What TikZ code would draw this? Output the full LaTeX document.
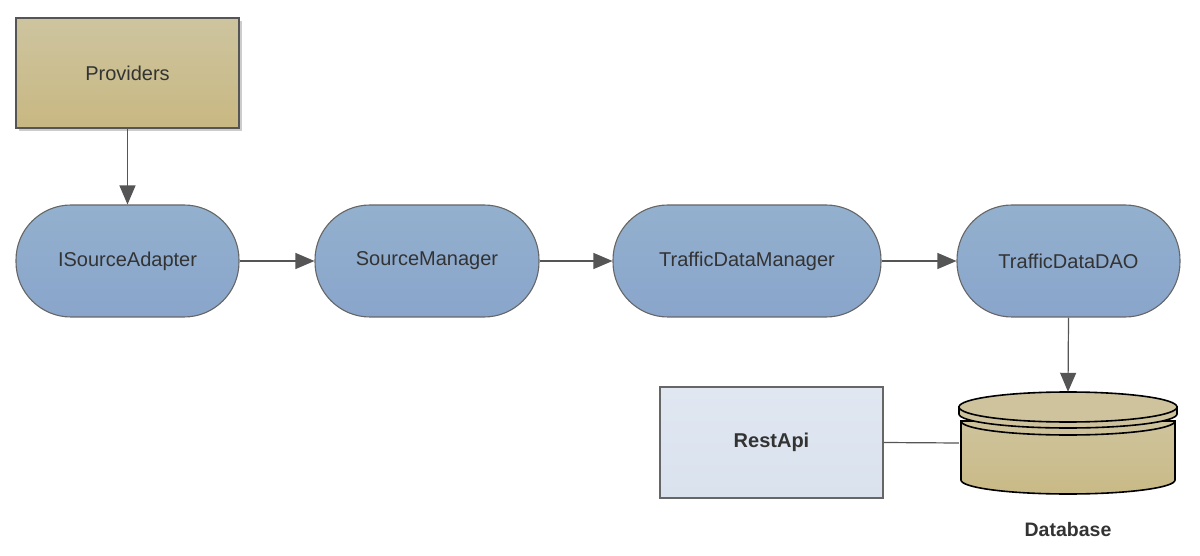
\documentclass[tikz,border=0pt]{standalone}
\usepackage{fontspec}
\setmainfont{Liberation Sans}
\usetikzlibrary{arrows.meta,shadows}
\definecolor{txt}{HTML}{333333}
\definecolor{edge}{HTML}{555555}
\definecolor{bord}{HTML}{666666}
\definecolor{blueT}{HTML}{93B0CE}
\definecolor{blueB}{HTML}{89A5CB}
\definecolor{tanT}{HTML}{CDC49F}
\definecolor{tanB}{HTML}{C8B882}
\definecolor{restT}{HTML}{E0E7F1}
\definecolor{restB}{HTML}{DAE2EE}
\definecolor{dbT}{HTML}{CEC39C}
\definecolor{dbB}{HTML}{C9BA86}
\begin{document}
\begin{tikzpicture}[x=1pt,y=1pt,
  every node/.style={font=\fontsize{20}{24}\selectfont, text=txt},
  stadium/.style={draw=bord, line width=1.1pt, top color=blueT, bottom color=blueB,
    rounded corners=55pt, minimum height=112pt, inner sep=0pt},
  provbox/.style={draw=edge, line width=1.4pt, top color=tanT, bottom color=tanB,
    minimum width=223pt, minimum height=110pt, inner sep=0pt,
    drop shadow={opacity=0.4, shadow xshift=3pt, shadow yshift=-3pt}},
  restbox/.style={draw=bord, line width=1.1pt, top color=restT, bottom color=restB,
    minimum width=223pt, minimum height=111pt, inner sep=0pt, font=\fontsize{20}{24}\selectfont\bfseries},
  conn/.style={draw=edge, line width=1.2pt},
  arr/.style={conn, -{Triangle[length=19pt,width=16pt]}},
  dbline/.style={draw=black, line width=1.6pt}
]
\useasboundingbox (0,0) rectangle (1200,555);

\node[provbox] (prov) at (127.5,482) {Providers};

\node[stadium, minimum width=223pt] (isa) at (127.5,294) {ISourceAdapter};
\node[stadium, minimum width=224pt] (sm) at (427,294) {SourceManager};
\node[stadium, minimum width=268pt] (tdm) at (747,294) {TrafficDataManager};
\node[stadium, minimum width=223pt] (dao) at (1068.5,294) {TrafficDataDAO};

\node[restbox] (rest) at (771.5,112.5) {RestApi};

% database cylinder
\node[minimum width=218pt, minimum height=102pt, inner sep=0pt] (db) at (1068,112) {};
\path[dbline, top color=dbT, bottom color=dbB]
  (961,134) -- (961,75) arc[start angle=180, end angle=360, x radius=107, y radius=14]
  -- (1175,134) -- cycle;
\draw[dbline] (961,134) arc[start angle=180, end angle=360, x radius=107, y radius=14];
\path[dbline, fill=dbT]
  (959,148) -- (959,141) arc[start angle=180, end angle=360, x radius=109, y radius=14]
  -- (1177,148) -- cycle;
\draw[dbline, fill=dbT] (1068,148) ellipse[x radius=109, y radius=15];
\node[font=\fontsize{19.5}{23}\selectfont\bfseries] (dblabel) at (1068,25) {Database};

% connectors
\draw[arr] (prov.south) -- (isa.north);
\draw[arr] (isa.east) -- (sm.west);
\draw[arr] (sm.east) -- (tdm.west);
\draw[arr] (tdm.east) -- (dao.west);
\draw[arr] (dao.south) -- (db.north);
\draw[conn] (rest.east) -- (db.west);
\end{tikzpicture}
\end{document}
